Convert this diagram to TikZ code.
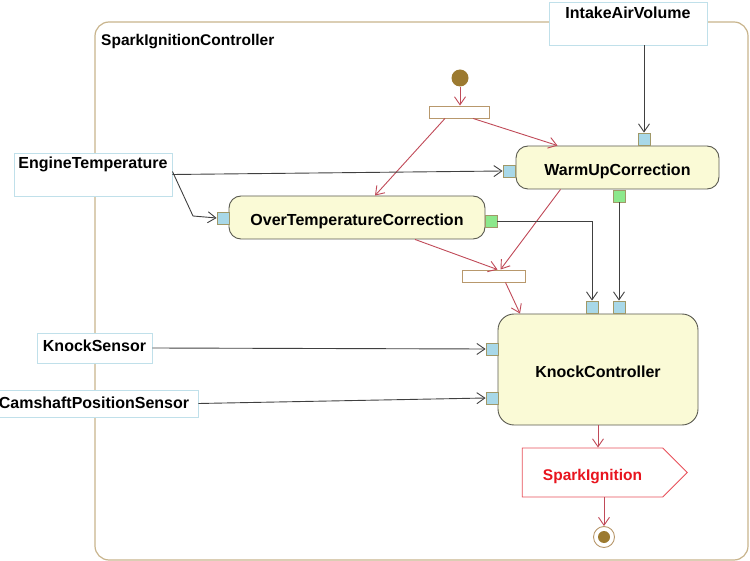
\documentclass[tikz,border=0pt]{standalone}
\usepackage{fontspec}
\setmainfont{Liberation Sans}
\usetikzlibrary{arrows.meta,shapes.symbols}
\definecolor{framec}{HTML}{C8B48C}
\definecolor{actfill}{HTML}{FAFAD6}
\definecolor{actdraw}{HTML}{5A5A50}
\definecolor{pinblue}{HTML}{A8D8E8}
\definecolor{pingreen}{HTML}{8CE88C}
\definecolor{pinborder}{HTML}{A09868}
\definecolor{barborder}{HTML}{B8986C}
\definecolor{inborder}{HTML}{C0E0EA}
\definecolor{flowred}{HTML}{C04A58}
\definecolor{objline}{HTML}{404040}
\definecolor{initc}{HTML}{9C7A30}
\definecolor{sigred}{HTML}{E8141E}
\definecolor{sigborder}{HTML}{E8505A}
\tikzset{
  x=1pt, y=-1pt,
  lbl/.style={font=\fontsize{16}{19}\selectfont\bfseries, inner sep=0pt},
  action/.style={draw=actdraw, line width=0.9pt, fill=actfill, rounded corners=12pt, font=\fontsize{16}{19}\selectfont\bfseries, inner sep=0pt, text height=15.5pt, text depth=0pt},
  inbox/.style={draw=inborder, line width=0.9pt, fill=white, inner sep=0pt},
  pinb/.style={draw=pinborder, line width=0.8pt, fill=pinblue, minimum width=12pt, minimum height=12pt, inner sep=0pt},
  ping/.style={draw=pinborder, line width=0.8pt, fill=pingreen, minimum width=12pt, minimum height=12pt, inner sep=0pt},
  barnode/.style={draw=barborder, line width=0.9pt, fill=white, inner sep=0pt},
  flow/.style={draw=flowred, line width=0.9pt, -{Straight Barb[length=8pt,width=11pt]}},
  objflow/.style={draw=objline, line width=0.9pt, -{Straight Barb[length=8pt,width=11pt]}},
}
\begin{document}
\begin{tikzpicture}
\useasboundingbox (0,0) rectangle (750,561);
% frame
\draw[framec, line width=1.2pt, rounded corners=14pt] (95,22) rectangle (748,560);
\node[lbl, anchor=west, font=\fontsize{15.5}{18}\selectfont\bfseries] (title) at (101,41.5) {SparkIgnitionController};

% input parameter boxes
\node[inbox, minimum width=158pt, minimum height=43pt] (IAV) at (628,23.5) {};
\node[lbl] (IAVt) at (628,13) {IntakeAirVolume};
\node[inbox, minimum width=158pt, minimum height=43pt] (ET) at (93,174.5) {};
\node[lbl] (ETt) at (93,164.5) {EngineTemperature};
\node[inbox, minimum width=115pt, minimum height=30pt] (KS) at (94.5,348) {};
\node[lbl] (KSt) at (94.5,345.5) {KnockSensor};
\node[inbox, minimum width=200pt, minimum height=27pt] (CPS) at (98,403.5) {};
\node[lbl] (CPSt) at (94,402.5) {CamshaftPositionSensor};

% initial, bars
\node[circle, fill=initc, minimum size=17pt, inner sep=0pt] (init) at (460,78) {};
\node[barnode, minimum width=60pt, minimum height=12pt] (bar1) at (459,112) {};
\node[barnode, minimum width=63pt, minimum height=12pt] (bar2) at (493.5,276) {};

% actions
\node[action, minimum width=203pt, minimum height=43pt] (WUC) at (617.5,167.5) {WarmUpCorrection};
\node[pinb] (wl) at (509,171) {};
\node[pinb] (wt) at (644,139) {};
\node[ping] (wb) at (619,196) {};

\node[action, minimum width=256pt, minimum height=43pt] (OTC) at (357,217.5) {OverTemperatureCorrection};
\node[pinb] (ol) at (223,218) {};
\node[ping] (or) at (491,221) {};

\node[action, rounded corners=16pt, minimum width=200pt, minimum height=111pt] (KC) at (598,369.5) {KnockController};
\node[pinb] (kt1) at (592,307) {};
\node[pinb] (kt2) at (619,307) {};
\node[pinb] (kl1) at (492,349) {};
\node[pinb] (kl2) at (492,398) {};

% send signal
\node[signal, signal to=east, signal from=nowhere, signal pointer angle=90, draw=sigborder, line width=0.9pt, fill=white, minimum width=165pt, minimum height=49pt, inner sep=0pt, text=sigred, font=\fontsize{15.5}{18}\selectfont\bfseries, text height=15pt, text depth=0pt] (sig) at (592.5,472.5) {SparkIgnition};

% final
\node[circle, draw=barborder, line width=0.9pt, fill=white, minimum size=21pt, inner sep=0pt] (fin) at (604,537) {};
\node[circle, fill=initc, minimum size=12pt, inner sep=0pt] (finin) at (fin) {};

% control flows
\draw[flow] (init) -- (bar1.north -| init);
\draw[flow] ([xshift=-14pt]bar1.south) -- ([xshift=18pt]OTC.north);
\draw[flow] ([xshift=14pt]bar1.south) -- ([xshift=-60pt]WUC.north);
\draw[flow] ([xshift=58pt]OTC.south) -- ([xshift=4pt]bar2.north);
\draw[flow] ([xshift=-57pt]WUC.south) -- ([xshift=7pt]bar2.north);
\draw[flow] ([xshift=12pt]bar2.south) -- ([xshift=-78pt]KC.north);
\draw[flow] (KC.south) -- (KC.south |- sig.north);
\draw[flow] (sig.south -| fin) -- (fin.north);

% object flows
\draw[objflow] (wt.north |- IAV.south) -- (wt.north);
\draw[objflow] (ET.east) -- (wl.west);
\coordinate (bend) at (193,216);
\draw[objflow] ([yshift=3pt]ET.east) -- (bend) -- (ol.west);
\draw[objflow] (or.east) -| (kt1.north);
\draw[objflow] (wb.south) -- (kt2.north);
\draw[objflow] (KS.east) -- (kl1.west);
\draw[objflow] (CPS.east) -- (kl2.west);
\end{tikzpicture}
\end{document}
